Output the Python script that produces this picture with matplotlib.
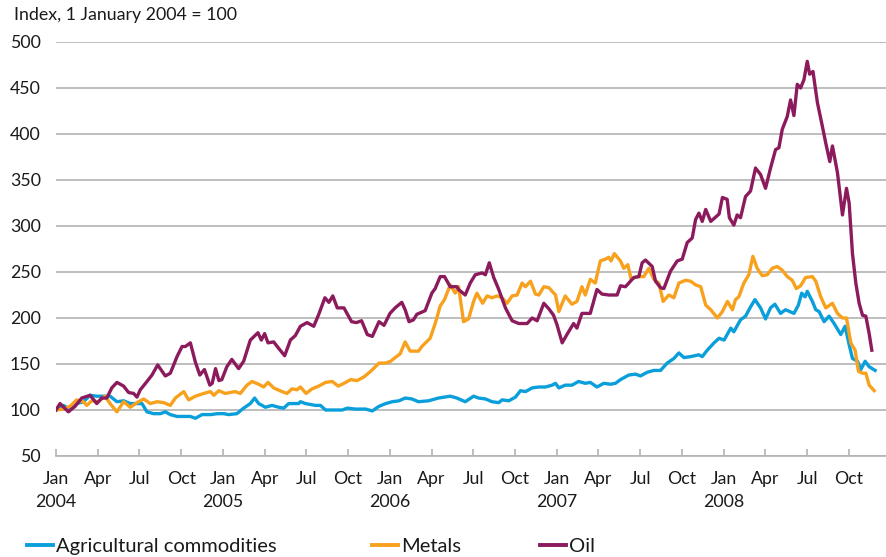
import matplotlib
matplotlib.use("Agg")
import matplotlib.pyplot as plt
from matplotlib.lines import Line2D

# x values: months since 1 January 2004 (fractional)
oil_m = [0.0, 0.29, 0.89, 1.37, 1.85, 2.45, 2.93, 3.29, 3.65, 4.01, 4.38, 4.86, 5.22, 5.58, 5.82,
         6.06, 6.54, 6.90, 7.31, 7.86, 8.22, 8.70, 9.06, 9.30, 9.66, 10.02, 10.34, 10.67, 11.06,
         11.23, 11.47, 11.71, 11.92, 12.28, 12.64, 13.13, 13.49, 13.97, 14.52, 14.76, 15.0, 15.24,
         15.65, 16.01, 16.44, 16.85, 17.21, 17.57, 18.05, 18.53, 18.89, 19.33, 19.62, 19.90, 20.22,
         20.70, 21.25, 21.59, 21.97, 22.38, 22.74, 23.22, 23.58, 24.01, 24.38, 24.86, 25.10, 25.38,
         25.70, 25.94, 26.54, 27.02, 27.26, 27.62, 27.93, 28.34, 28.82, 28.94, 29.42, 29.78, 30.14,
         30.63, 30.87, 31.15, 31.47, 31.83, 32.31, 32.79, 33.27, 33.87, 34.23, 34.59, 35.07, 35.43,
         35.77, 36.01, 36.39, 36.73, 37.21, 37.45, 37.81, 38.41, 38.89, 39.25, 39.74, 40.34, 40.58,
         40.94, 41.18, 41.54, 41.90, 42.14, 42.38, 42.86, 43.10, 43.46, 43.70, 44.18, 44.66, 45.02,
         45.38, 45.74, 45.98, 46.22, 46.46, 46.71, 47.07, 47.67, 47.91, 48.25, 48.41, 48.73, 48.97,
         49.21, 49.57, 49.93, 50.29, 50.65, 51.01, 51.37, 51.73, 51.97, 52.21, 52.57, 52.81, 53.05,
         53.29, 53.53, 53.77, 54.01, 54.18, 54.42, 54.74, 55.10, 55.34, 55.63, 55.82, 56.18, 56.54,
         56.83, 57.02, 57.26, 57.50, 57.74, 57.98, 58.22, 58.46, 58.65]
oil_v = [100, 107, 98, 104, 113, 116, 107, 113, 113, 124, 130, 126, 119, 118, 114,
         122, 131, 138, 149, 137, 140, 158, 169, 169, 173, 152, 138, 144, 127,
         129, 145, 132, 133, 147, 155, 145, 153, 176, 184, 176, 183, 173,
         174, 167, 159, 176, 181, 191, 195, 191, 204, 222, 217, 224, 211,
         211, 196, 195, 197, 182, 180, 196, 192, 205, 211, 217, 209, 196,
         198, 204, 208, 227, 232, 245, 245, 234, 234, 231, 225, 238, 247,
         249, 247, 260, 244, 231, 211, 197, 194, 194, 200, 197, 216, 210,
         203, 193, 173, 182, 194, 189, 205, 205, 231, 226, 225, 225, 235,
         234, 238, 244, 245, 260, 263, 256, 240, 233, 232, 251, 262, 264,
         282, 287, 307, 314, 305, 318, 305, 313, 331, 329, 309, 301, 312,
         309, 332, 338, 363, 356, 341, 363, 383, 385, 405, 419, 437, 420,
         454, 450, 459, 479, 465, 468, 434, 408, 390, 370, 387, 358, 312,
         341, 325, 270, 238, 216, 203, 202, 183, 165]

met_m = [0.0, 0.53, 1.01, 1.49, 1.97, 2.21, 2.57, 3.05, 3.53, 3.89, 4.38, 4.86, 5.34, 5.82, 6.30,
         6.78, 7.26, 7.74, 8.22, 8.58, 9.18, 9.54, 10.02, 10.63, 11.11, 11.35, 11.71, 12.16, 12.88,
         13.25, 13.73, 14.09, 14.57, 14.93, 15.24, 15.65, 16.25, 16.61, 16.97, 17.33, 17.57, 17.98,
         18.41, 18.89, 19.38, 19.86, 20.29, 20.70, 21.18, 21.66, 22.14, 22.62, 23.22, 23.70, 24.06,
         24.38, 24.74, 25.10, 25.46, 26.06, 26.30, 26.90, 27.26, 27.62, 27.93, 28.34, 28.70, 28.94,
         29.30, 29.66, 30.02, 30.26, 30.67, 30.99, 31.35, 31.71, 32.07, 32.43, 32.79, 33.15, 33.51,
         33.75, 34.11, 34.47, 34.71, 35.07, 35.43, 35.91, 36.15, 36.61, 37.09, 37.45, 37.81, 38.05,
         38.41, 38.77, 39.13, 39.50, 39.74, 39.90, 40.14, 40.58, 40.82, 41.11, 41.35, 41.78, 42.26,
         42.62, 42.98, 43.34, 43.65, 44.06, 44.42, 44.78, 45.26, 45.62, 45.98, 46.35, 46.71, 47.07,
         47.55, 47.91, 48.27, 48.63, 48.85, 49.09, 49.45, 49.81, 50.10, 50.41, 50.77, 51.13, 51.49,
         51.85, 52.21, 52.57, 52.93, 53.22, 53.53, 53.89, 54.38, 54.62, 54.98, 55.34, 55.82, 56.18,
         56.54, 56.83, 57.14, 57.45, 57.69, 57.98, 58.22, 58.46, 58.82]
met_v = [100, 101, 104, 111, 109, 105, 110, 109, 115, 107, 98, 109, 103, 108, 112,
         107, 109, 108, 105, 113, 120, 111, 115, 118, 120, 116, 121, 118, 120,
         118, 127, 131, 128, 125, 130, 124, 120, 118, 123, 122, 125, 118,
         123, 126, 130, 131, 126, 129, 133, 132, 136, 142, 151, 151, 153,
         157, 161, 174, 164, 164, 169, 178, 194, 213, 220, 236, 227, 234,
         196, 199, 218, 227, 216, 224, 222, 224, 222, 216, 224, 225, 238,
         234, 240, 226, 225, 234, 233, 225, 207, 224, 215, 218, 234, 225,
         242, 238, 262, 264, 266, 262, 270, 262, 254, 258, 242, 245, 245,
         254, 242, 238, 218, 225, 222, 238, 241, 240, 236, 234, 214, 209,
         200, 207, 218, 209, 220, 223, 238, 247, 267, 254, 246, 247, 254,
         256, 252, 245, 241, 232, 235, 244, 245, 240, 223, 211, 216, 205,
         200, 200, 173, 165, 142, 140, 140, 127, 121]

agr_m = [0.0, 0.53, 1.01, 1.49, 1.97, 2.45, 2.93, 3.41, 3.89, 4.38, 4.86, 5.34, 5.82, 6.18, 6.54,
         7.02, 7.50, 7.86, 8.22, 8.70, 9.18, 9.66, 10.02, 10.50, 11.11, 11.59, 12.07, 12.40, 13.00,
         13.49, 13.97, 14.28, 14.57, 15.05, 15.53, 16.01, 16.37, 16.73, 17.45, 17.57, 17.93, 18.65,
         19.01, 19.38, 19.98, 20.58, 20.94, 21.54, 22.26, 22.74, 23.22, 23.70, 24.18, 24.66, 25.10,
         25.58, 26.06, 26.78, 27.50, 28.34, 28.82, 29.42, 30.02, 30.38, 30.87, 31.35, 31.83, 32.07,
         32.55, 33.03, 33.39, 33.75, 34.23, 34.71, 35.19, 35.67, 35.91, 36.15, 36.61, 37.09, 37.57,
         38.05, 38.41, 38.89, 39.38, 39.86, 40.22, 40.58, 41.18, 41.66, 42.02, 42.50, 42.98, 43.46,
         43.94, 44.42, 44.78, 45.14, 45.62, 46.22, 46.46, 46.82, 47.31, 47.67, 48.03, 48.51, 48.73,
         49.21, 49.57, 49.93, 50.25, 50.65, 51.01, 51.37, 51.68, 52.09, 52.45, 53.05, 53.37, 53.61,
         53.85, 54.01, 54.38, 54.62, 54.86, 55.22, 55.58, 55.94, 56.42, 56.73, 57.02, 57.26, 57.62,
         57.86, 58.17, 58.46, 58.89]
agr_v = [100, 105, 101, 107, 109, 116, 115, 115, 115, 109, 110, 107, 107, 107, 98,
         96, 96, 98, 95, 93, 93, 93, 91, 95, 95, 96, 96, 95, 96,
         102, 107, 113, 107, 103, 105, 103, 102, 107, 107, 109, 107, 105,
         105, 100, 100, 100, 102, 101, 101, 99, 104, 107, 109, 110, 113,
         112, 109, 110, 113, 115, 113, 109, 115, 113, 112, 109, 108, 111,
         110, 114, 121, 120, 124, 125, 125, 127, 129, 124, 127, 127, 131,
         129, 130, 125, 129, 128, 129, 133, 138, 139, 137, 141, 143, 143,
         151, 156, 162, 157, 158, 160, 158, 165, 173, 178, 176, 189, 185,
         198, 202, 212, 220, 211, 199, 211, 215, 205, 209, 205, 214, 227,
         223, 229, 218, 209, 207, 196, 202, 194, 182, 191, 171, 156, 153,
         144, 153, 147, 143]

series_names = ["Agricultural commodities", "Metals", "Oil"]
months = ["Jan", "Apr", "Jul", "Oct"]
years = ["2004", "2005", "2006", "2007", "2008"]
yticks = [50, 100, 150, 200, 250, 300, 350, 400, 450, 500]

C_AGR = "#0a9fda"
C_MET = "#f7a11d"
C_OIL = "#8c1b5d"
TXT = "#1a1a1a"
GRID = "#b3b3b3"

plt.rcParams["font.family"] = ["Lato", "DejaVu Sans"]
FS = 12.8

W, H = 886, 557
fig = plt.figure(figsize=(W / 100, H / 100), dpi=100)
ax = fig.add_axes([56 / W, (H - 456) / H, 830 / W, (456 - 42) / H])

lw = 2.4
ax.plot(agr_m, agr_v, color=C_AGR, lw=lw, solid_joinstyle="round", zorder=3)
ax.plot(met_m, met_v, color=C_MET, lw=lw, solid_joinstyle="round", zorder=4)
ax.plot(oil_m, oil_v, color=C_OIL, lw=lw, solid_joinstyle="round", zorder=5)

ax.set_xlim(0, 59.67)
ax.set_ylim(50, 500)

for sp in ["top", "right", "left"]:
    ax.spines[sp].set_visible(False)
ax.spines["bottom"].set_color(GRID)
ax.spines["bottom"].set_linewidth(1.2)

ax.set_yticks(yticks)
ax.set_yticklabels([str(v) for v in yticks])
ax.yaxis.grid(True, color=GRID, lw=1.2)
ax.set_axisbelow(True)
ax.tick_params(axis="y", length=0, pad=11, labelsize=FS, labelcolor=TXT)

xt = list(range(0, 60, 3))
xl = []
for i, t in enumerate(xt):
    mname = months[i % 4]
    if i % 4 == 0:
        xl.append(mname + "\n" + years[i // 4])
    else:
        xl.append(mname)
ax.set_xticks(xt)
ax.set_xticklabels(xl, linespacing=1.5)
ax.tick_params(axis="x", direction="in", length=5, width=1.2, color=GRID, pad=11,
               labelsize=FS, labelcolor=TXT)

fig.text(14 / W, 1 - 15 / H, "Index, 1 January 2004 = 100", fontsize=FS, color=TXT,
         ha="left", va="center")

# legend entries placed at fixed positions (handle start, in pixels)
leg_x = [27, 372, 540]
for name, col, x0 in zip(series_names, [C_AGR, C_MET, C_OIL], leg_x):
    h = Line2D([], [], color=col, lw=2.8)
    lg = fig.legend([h], [name], loc="center left", bbox_to_anchor=(x0 / W, 1 - 546 / H),
                    frameon=False, fontsize=14.5, handlelength=1.3, handletextpad=0.15,
                    borderpad=0, borderaxespad=0)
    for t in lg.get_texts():
        t.set_color(TXT)

fig.savefig("out.png", dpi=100)
